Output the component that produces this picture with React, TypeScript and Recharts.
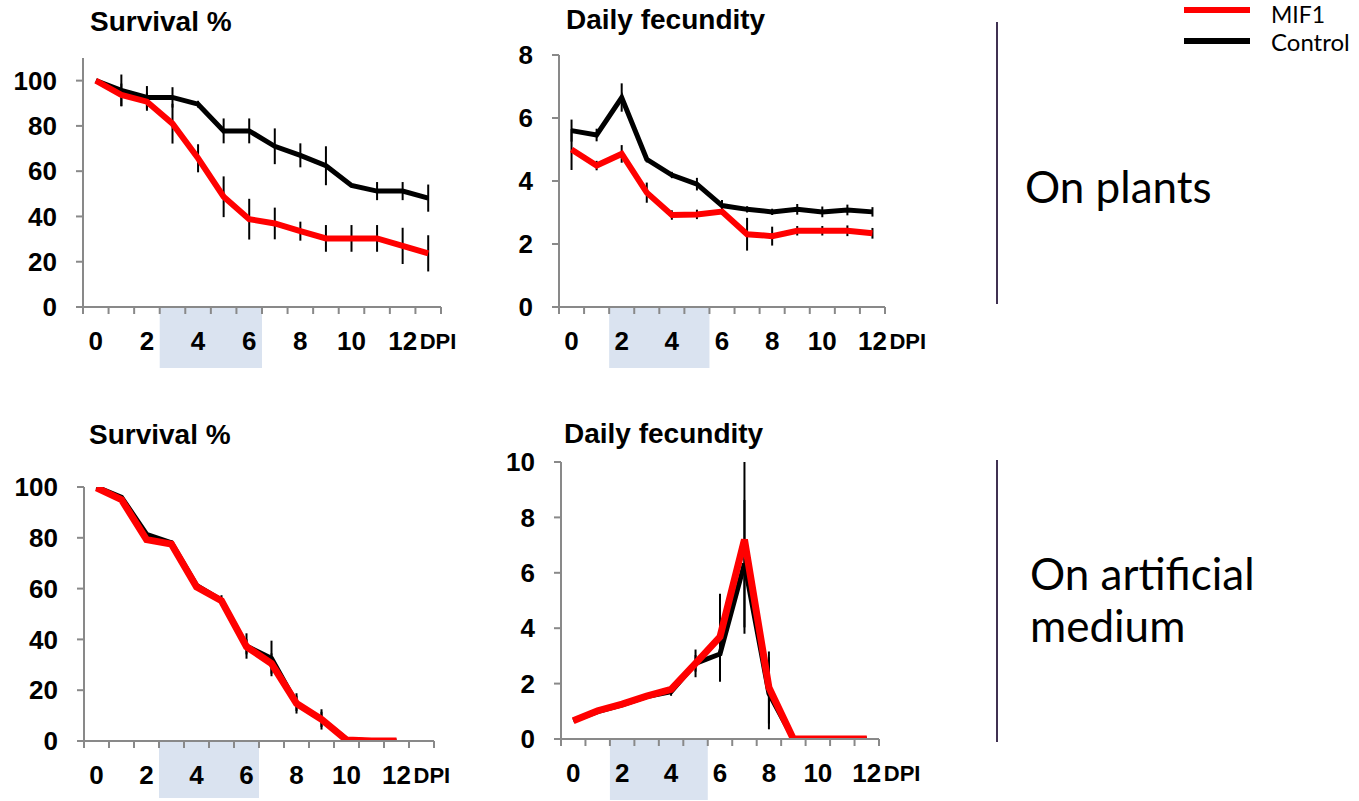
import React from 'react';
import {
  LineChart,
  Line,
  XAxis,
  YAxis,
  ErrorBar,
  ReferenceArea,
} from 'recharts';

// days post infection
const dpiPlants = [0, 1, 2, 3, 4, 5, 6, 7, 8, 9, 10, 11, 12, 13];
const dpiFecPlants = [0, 1, 2, 3, 4, 5, 6, 7, 8, 9, 10, 11, 12];
const dpiMedium = [0, 1, 2, 3, 4, 5, 6, 7, 8, 9, 10, 11, 12];

// survival on plants (%)
const controlSurvPlants = [100, 95.7, 92.6, 92.6, 89.6, 77.8, 77.8, 71, 67, 62.4, 53.7, 51.2, 51.2, 48.1];
const mif1SurvPlants = [100, 93.7, 90.7, 81, 65.7, 48.7, 38.8, 36.9, 33.5, 30.3, 30.3, 30.3, 27, 23.7];
const controlSurvPlantsErr = [0, 7, 5, 4.5, 1.5, 5.5, 5.5, 7.9, 5.3, 8.6, 0, 4, 4, 6];
const mif1SurvPlantsErr = [0, 5, 4, 8.8, 6.2, 9, 9, 7, 4.2, 5.9, 5.9, 5.9, 8, 8];

// daily fecundity on plants
const controlFecPlants = [5.6, 5.46, 6.65, 4.69, 4.19, 3.9, 3.22, 3.1, 3.02, 3.1, 3.02, 3.08, 3.02];
const mif1FecPlants = [5.0, 4.49, 4.86, 3.63, 2.92, 2.94, 3.03, 2.31, 2.25, 2.42, 2.42, 2.42, 2.34];
const controlFecPlantsErr = [0.35, 0.2, 0.45, 0.1, 0.1, 0.2, 0.18, 0.1, 0.1, 0.17, 0.17, 0.17, 0.15];
const mif1FecPlantsErr = [0.65, 0.15, 0.28, 0.32, 0.15, 0.15, 0.1, 0.52, 0.3, 0.15, 0.15, 0.17, 0.17];

// survival on artificial medium (%)
const controlSurvMedium = [100, 96, 81.4, 78, 61.3, 55.4, 37.4, 32.5, 14.8, 8.5, 0.7, 0, 0];
const mif1SurvMedium = [99.7, 95, 79.3, 77.5, 60.7, 55.2, 37.1, 30.5, 14.8, 8.5, 0.4, 0, 0];
const controlSurvMediumErr = [0, 0, 0, 1, 0, 2, 5, 7, 4, 4, 0, 0, 0];
const mif1SurvMediumErr = [0, 0, 0, 0, 0, 1, 3, 4, 3, 3, 0, 0, 0];

// daily fecundity on artificial medium (day 7 bar is cut at the top of the axis)
const controlFecMedium = [0.66, 0.99, 1.23, 1.53, 1.71, 2.73, 3.07, 6.33, 1.65, 0, 0, 0, 0];
const mif1FecMedium = [0.66, 1.02, 1.26, 1.55, 1.79, 2.73, 3.69, 7.2, 1.86, 0, 0, 0, 0];
const controlFecMediumErr = [0, 0, 0, 0, 0.15, 0.5, 1.0, 2.3, 1.3, 0, 0, 0, 0];
const mif1FecMediumErr: (number | [number, number])[] = [0, 0, 0, 0, 0, 0.3, 1.55, [3.4, 2.8], 1.3, 0, 0, 0, 0];

const survTicks = [0, 20, 40, 60, 80, 100];
const fecPlantsTicks = [0, 2, 4, 6, 8];
const fecMediumTicks = [0, 2, 4, 6, 8, 10];

const xUnit = 'DPI';
const seriesNames = ['MIF1', 'Control'];

const AXIS = '#898989';
const FONT = '"Liberation Sans", Arial, sans-serif';

type Row = { dpi: number; control?: number; mif1?: number; controlErr?: any; mif1Err?: any };

function buildRows(dpi: number[], control: number[], mif1: number[], cErr: any[], mErr: any[]): Row[] {
  return dpi.map((d, i) => ({ dpi: d, control: control[i], mif1: mif1[i], controlErr: cErr[i], mif1Err: mErr[i] }));
}

function XTick(props: any) {
  const { x, y, payload } = props;
  const v = payload.value;
  if (!Number.isInteger(v)) {
    return <line x1={x} x2={x} y1={y} y2={y + 7} stroke={AXIS} strokeWidth={2} />;
  }
  if (v % 2 !== 0) return <g />;
  return (
    <g>
      <text x={x} y={y + 43} textAnchor="middle" fontSize={26} fontWeight="bold" fill="#000" fontFamily={FONT}>
        {v}
      </text>
      {v === 12 && (
        <text x={x + 17} y={y + 42} textAnchor="start" fontSize={22} fontWeight="bold" fill="#000" fontFamily={FONT}>
          {xUnit}
        </text>
      )}
    </g>
  );
}

type PanelProps = {
  left: number;
  top: number;
  width: number;
  height: number;
  marginTop: number;
  yWidth: number;
  xSlots: number;
  yMax: number;
  yTicks: number[];
  rows: Row[];
  shade: [number, number];
  shadeDepth: number;
  redWidth: number;
  blackWidth: number;
};

function Panel(p: PanelProps) {
  const xTicks: number[] = [];
  for (let i = 0; i <= p.xSlots; i++) {
    xTicks.push(i - 0.5);
    if (i < p.xSlots) xTicks.push(i);
  }
  return (
    <div style={{ position: 'absolute', left: p.left, top: p.top }}>
      <LineChart
        width={p.width}
        height={p.height}
        data={p.rows}
        margin={{ top: p.marginTop, right: 60, bottom: 0, left: 0 }}
      >
        <ReferenceArea
          x1={p.shade[0]}
          x2={p.shade[1]}
          y1={-p.shadeDepth}
          y2={0}
          fill="#dae3f0"
          fillOpacity={1}
          stroke="none"
          ifOverflow="visible"
        />
        <XAxis
          dataKey="dpi"
          type="number"
          domain={[-0.5, p.xSlots - 0.5]}
          ticks={xTicks}
          interval={0}
          allowDataOverflow
          height={62}
          tickSize={0}
          tickMargin={0}
          tickLine={false}
          axisLine={{ stroke: AXIS, strokeWidth: 2 }}
          tick={<XTick />}
        />
        <YAxis
          width={p.yWidth}
          domain={[0, p.yMax]}
          ticks={p.yTicks}
          interval={0}
          allowDataOverflow
          tickSize={7}
          tickMargin={19}
          axisLine={{ stroke: AXIS, strokeWidth: 2 }}
          tickLine={{ stroke: AXIS, strokeWidth: 2 }}
          tick={{ fill: '#000', fontSize: 26, fontWeight: 'bold', fontFamily: FONT }}
        />
        <Line
          type="linear"
          dataKey="control"
          stroke="#000000"
          strokeWidth={p.blackWidth}
          dot={false}
          isAnimationActive={false}
        >
          <ErrorBar dataKey="controlErr" direction="y" width={0} stroke="#000" strokeWidth={2} />
        </Line>
        <Line
          type="linear"
          dataKey="mif1"
          stroke="#ff0000"
          strokeWidth={p.redWidth}
          dot={false}
          isAnimationActive={false}
        >
          <ErrorBar dataKey="mif1Err" direction="y" width={0} stroke="#000" strokeWidth={2} />
        </Line>
      </LineChart>
    </div>
  );
}

export default function App() {
  const titleStyle = { fontFamily: FONT, fontWeight: 'bold' as const, fontSize: 28, fill: '#000' };
  const sideStyle = { fontFamily: 'Lato, "Open Sans", sans-serif', fontSize: 44, fill: '#000' };
  return (
    <div style={{ position: 'absolute', left: 0, top: 0, width: 1359, height: 801, background: '#fff', fontFamily: FONT }}>
      <Panel
        left={0}
        top={40}
        width={501}
        height={329}
        marginTop={18}
        yWidth={83}
        xSlots={14}
        yMax={110}
        yTicks={survTicks}
        rows={buildRows(dpiPlants, controlSurvPlants, mif1SurvPlants, controlSurvPlantsErr, mif1SurvPlantsErr)}
        shade={[2.5, 6.5]}
        shadeDepth={27}
        redWidth={6}
        blackWidth={5}
      />
      <Panel
        left={470}
        top={40}
        width={475}
        height={329}
        marginTop={15}
        yWidth={89}
        xSlots={13}
        yMax={8}
        yTicks={fecPlantsTicks}
        rows={buildRows(dpiFecPlants, controlFecPlants, mif1FecPlants, controlFecPlantsErr, mif1FecPlantsErr)}
        shade={[1.5, 5.5]}
        shadeDepth={1.94}
        redWidth={6}
        blackWidth={5}
      />
      <Panel
        left={0}
        top={460}
        width={494}
        height={343}
        marginTop={27}
        yWidth={84}
        xSlots={14}
        yMax={100}
        yTicks={survTicks}
        rows={buildRows(dpiMedium, controlSurvMedium, mif1SurvMedium, controlSurvMediumErr, mif1SurvMediumErr)}
        shade={[2.5, 6.5]}
        shadeDepth={22.4}
        redWidth={7}
        blackWidth={5}
      />
      <Panel
        left={470}
        top={440}
        width={469}
        height={361}
        marginTop={22}
        yWidth={91}
        xSlots={13}
        yMax={10}
        yTicks={fecMediumTicks}
        rows={buildRows(dpiMedium, controlFecMedium, mif1FecMedium, controlFecMediumErr, mif1FecMediumErr)}
        shade={[1.5, 5.5]}
        shadeDepth={2.2}
        redWidth={7}
        blackWidth={5}
      />
      <svg
        width={1359}
        height={801}
        style={{ position: 'absolute', left: 0, top: 0, pointerEvents: 'none' }}
      >
        <text x={90} y={31} style={titleStyle}>Survival %</text>
        <text x={566} y={29} style={titleStyle}>Daily fecundity</text>
        <text x={89} y={444} style={titleStyle}>Survival %</text>
        <text x={564} y={443} style={titleStyle}>Daily fecundity</text>

        <line x1={997} x2={997} y1={22} y2={304} stroke="#403152" strokeWidth={2} />
        <line x1={997} x2={997} y1={460} y2={742} stroke="#403152" strokeWidth={2} />

        <text x={1025} y={203} style={sideStyle}>On plants</text>
        <text x={1030} y={590} style={sideStyle}>On artificial</text>
        <text x={1030} y={642} style={sideStyle}>medium</text>

        <line x1={1184} x2={1250} y1={10} y2={10} stroke="#ff0000" strokeWidth={6} />
        <line x1={1184} x2={1250} y1={41} y2={41} stroke="#000000" strokeWidth={6} />
        <text x={1271} y={23} style={{ fontFamily: 'Lato, sans-serif', fontSize: 23, fill: '#000' }}>{seriesNames[0]}</text>
        <text x={1271} y={51} style={{ fontFamily: 'Lato, sans-serif', fontSize: 24, fill: '#000' }}>{seriesNames[1]}</text>
      </svg>
    </div>
  );
}
